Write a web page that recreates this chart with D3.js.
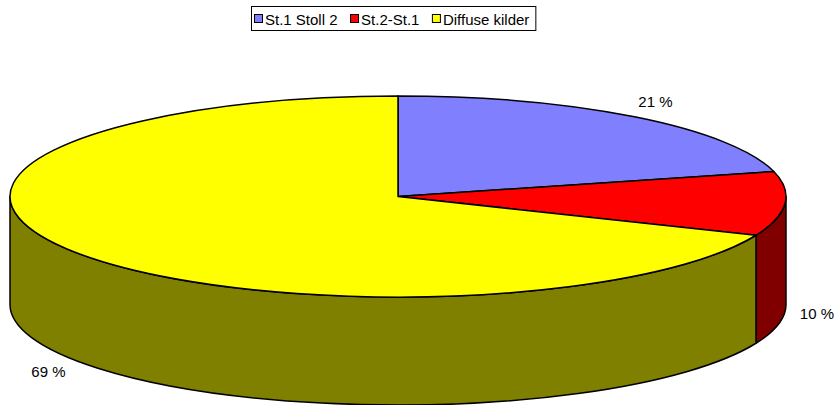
<!DOCTYPE html>
<html>
<head>
<meta charset="utf-8">
<script src="https://cdn.jsdelivr.net/npm/d3@7"></script>
<style>
    body { margin: 0; background: #fff; }
    svg { display: block; font-family: "Liberation Sans", Arial, sans-serif; }
</style>
</head>
<body>
<svg id="chart" width="835" height="405"></svg>
<script>
// Chart data
const categories = ["St.1 Stoll 2", "St.2-St.1", "Diffuse kilder"];
const values = [21, 10.3, 68.7];
const topColors = ["#8080ff", "#ff0000", "#ffff00"];
const sideColors = ["#4040a0", "#800000", "#808000"];

// Pie geometry
const CX = 398, CY = 196.5, RX = 388, RY = 100.5, DEPTH = 108;
const FONT_SIZE = 15;

const svg = d3.select("#chart");

const total = d3.sum(values);
const arcs = d3.pie().sort(null).value(d => d)(values);

// angle measured clockwise from 12 o'clock
function pointAt(t, dy = 0) {
    return [CX + RX * Math.sin(t), CY - RY * Math.cos(t) + dy];
}

function topPath(a0, a1) {
    const p0 = pointAt(a0), p1 = pointAt(a1);
    const large = (a1 - a0) > Math.PI ? 1 : 0;
    return `M${CX},${CY} L${p0} A${RX},${RY} 0 ${large} 1 ${p1} Z`;
}

function wallPath(a0, a1) {
    const p0 = pointAt(a0), p1 = pointAt(a1);
    const q0 = pointAt(a0, DEPTH), q1 = pointAt(a1, DEPTH);
    return `M${p0} A${RX},${RY} 0 0 1 ${p1} L${q1} A${RX},${RY} 0 0 0 ${q0} Z`;
}

// outer walls, only the part facing the viewer (between 3 and 9 o'clock)
const walls = svg.append("g");
arcs.forEach((d, i) => {
    const a0 = Math.max(d.startAngle, Math.PI / 2);
    const a1 = Math.min(d.endAngle, Math.PI * 1.5);
    if (a1 <= a0) return;
    walls.append("path")
        .attr("d", wallPath(a0, a1))
        .attr("fill", sideColors[i])
        .attr("stroke", "#000")
        .attr("stroke-width", 1.5)
        .attr("stroke-linejoin", "round");
});

// top faces
svg.append("g")
    .selectAll("path")
    .data(arcs)
    .join("path")
    .attr("d", d => topPath(d.startAngle, d.endAngle))
    .attr("fill", (d, i) => topColors[i])
    .attr("stroke", "#000")
    .attr("stroke-width", 1.5)
    .attr("stroke-linejoin", "round");

// percentage labels
svg.append("g")
    .selectAll("text")
    .data(arcs)
    .join("text")
    .attr("x", d => CX + (RX + 32) * Math.sin((d.startAngle + d.endAngle) / 2))
    .attr("y", d => {
        const mid = (d.startAngle + d.endAngle) / 2;
        const front = Math.cos(mid) < 0;
        return CY - (RY + 20) * Math.cos(mid) + (front ? DEPTH : 0);
    })
    .attr("text-anchor", "middle")
    .attr("dominant-baseline", "central")
    .attr("font-size", FONT_SIZE)
    .attr("fill", "#000")
    .text(d => `${Math.round(d.value / total * 100)} %`);

// legend
const legend = svg.append("g");
const box = legend.append("rect")
    .attr("fill", "#fff")
    .attr("stroke", "#000")
    .attr("stroke-width", 1);

const ITEM_GAP = 12.5;
let x = 0;
categories.forEach((name, i) => {
    const item = legend.append("g").attr("transform", `translate(${x},0)`);
    item.append("rect")
        .attr("x", 0.5).attr("y", -3.5)
        .attr("width", 8).attr("height", 8)
        .attr("fill", topColors[i])
        .attr("stroke", "#000");
    const label = item.append("text")
        .attr("x", 11)
        .attr("y", 1)
        .attr("dominant-baseline", "central")
        .attr("font-size", FONT_SIZE)
        .text(name);
    x += 11 + label.node().getComputedTextLength() + ITEM_GAP;
});
const legendWidth = x - ITEM_GAP + 9;
const legendLeft = Math.round(394.5 - legendWidth / 2) + 2;
legend.attr("transform", `translate(${legendLeft},18)`);
box.attr("x", -2.5).attr("y", -11.5).attr("width", legendWidth).attr("height", 24);
</script>
</body>
</html>
